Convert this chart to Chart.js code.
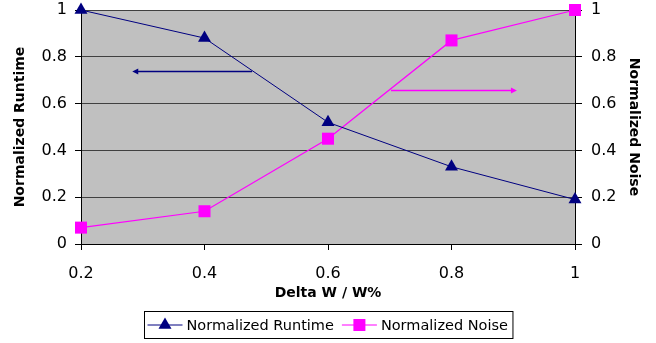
<!DOCTYPE html>
<html>
<head>
<meta charset="utf-8">
<script src="https://cdn.jsdelivr.net/npm/chart.js@4/dist/chart.umd.min.js"></script>
<style>
  html, body { margin: 0; padding: 0; background: #fff; }
  canvas { display: block; }
</style>
</head>
<body>
<canvas id="chart" width="656" height="343"></canvas>
<script>
const deltaW = [0.2, 0.4, 0.6, 0.8, 1];
const runtime = [1, 0.88, 0.52, 0.33, 0.19];
const noise = [0.07, 0.14, 0.45, 0.87, 1];
const xTicks = [0.2, 0.4, 0.6, 0.8, 1];
const yTicks = [0, 0.2, 0.4, 0.6, 0.8, 1];
const seriesNames = ['Normalized Runtime', 'Normalized Noise'];

// arrows pointing at each series' axis, in data units [x from, x to, y]
const runtimeArrow = [0.477, 0.283, 0.74];
const noiseArrow = [0.702, 0.906, 0.658];

const FONT = 'DejaVu Sans, sans-serif';

function fixTicks(values) {
    return function (scale) {
        scale.ticks = values.map(v => ({ value: v }));
    };
}

function fitSide(scale) {
    scale.width = 81;
    scale.paddingTop = 0;
    scale.paddingBottom = 0;
}

const plotBackground = {
    id: 'plotBackground',
    beforeDraw(chart) {
        const { ctx, chartArea: a } = chart;
        ctx.save();
        ctx.fillStyle = '#c0c0c0';
        ctx.fillRect(a.left, a.top, a.right - a.left, a.bottom - a.top);
        ctx.restore();
    }
};

function drawArrow(ctx, x1, x2, y, color) {
    const dir = x2 > x1 ? 1 : -1;
    ctx.strokeStyle = color;
    ctx.fillStyle = color;
    ctx.lineWidth = 1.3;
    ctx.beginPath();
    ctx.moveTo(x1, y);
    ctx.lineTo(x2 - dir * 4, y);
    ctx.stroke();
    ctx.beginPath();
    ctx.moveTo(x2, y);
    ctx.lineTo(x2 - dir * 6, y - 3);
    ctx.lineTo(x2 - dir * 6, y + 3);
    ctx.closePath();
    ctx.fill();
}

const arrows = {
    id: 'arrows',
    beforeDatasetsDraw(chart) {
        const { ctx, scales } = chart;
        ctx.save();
        drawArrow(ctx, scales.x.getPixelForValue(runtimeArrow[0]), scales.x.getPixelForValue(runtimeArrow[1]),
            Math.round(scales.y.getPixelForValue(runtimeArrow[2])) + 0.5, '#000080');
        drawArrow(ctx, scales.x.getPixelForValue(noiseArrow[0]), scales.x.getPixelForValue(noiseArrow[1]),
            Math.round(scales.y2.getPixelForValue(noiseArrow[2])) + 0.5, '#ff00ff');
        ctx.restore();
    }
};

function drawMarker(ctx, style, x, y, r) {
    if (style === 'triangle') {
        ctx.moveTo(x, y - r);
        ctx.lineTo(x + r * 0.866, y + r * 0.5);
        ctx.lineTo(x - r * 0.866, y + r * 0.5);
        ctx.closePath();
    } else {
        const s = r * Math.SQRT1_2;
        ctx.rect(x - s, y - s, 2 * s, 2 * s);
    }
}

const boxLegend = {
    id: 'boxLegend',
    afterDraw(chart) {
        const { ctx, chartArea: a } = chart;
        const sets = chart.data.datasets;
        ctx.save();
        ctx.font = '14.5px ' + FONT;
        const widths = sets.map(d => ctx.measureText(d.label).width);
        const total = 3 + widths.reduce((s, w) => s + 35 + 4 + w, 0) + 8 + 5;
        const cx = (a.left + a.right) / 2;
        let x = Math.round(cx - total / 2) + 0.5;
        const top = 311.5, h = 27;
        ctx.fillStyle = '#fff';
        ctx.fillRect(x, top, total, h);
        ctx.strokeStyle = '#000';
        ctx.lineWidth = 1;
        ctx.strokeRect(x, top, total, h);
        const cy = top + h / 2;
        let px = x + 3;
        sets.forEach((d, i) => {
            ctx.strokeStyle = d.borderColor;
            ctx.lineWidth = d.borderWidth;
            ctx.beginPath();
            ctx.moveTo(px, cy);
            ctx.lineTo(px + 35, cy);
            ctx.stroke();
            ctx.fillStyle = d.pointBackgroundColor;
            ctx.beginPath();
            drawMarker(ctx, d.pointStyle, px + 17.5, cy, d.pointRadius);
            ctx.fill();
            ctx.fillStyle = '#000';
            ctx.textBaseline = 'middle';
            ctx.fillText(d.label, px + 39, cy + 1);
            px += 35 + 4 + widths[i] + 8;
        });
        ctx.restore();
    }
};

new Chart(document.getElementById('chart'), {
    type: 'line',
    data: {
        datasets: [{
            label: seriesNames[0],
            data: deltaW.map((x, i) => ({ x: x, y: runtime[i] })),
            yAxisID: 'y',
            borderColor: '#000080',
            borderWidth: 1,
            pointStyle: 'triangle',
            pointRadius: 7.5,
            pointBackgroundColor: '#000080',
            pointBorderWidth: 0,
            tension: 0,
            clip: false
        }, {
            label: seriesNames[1],
            data: deltaW.map((x, i) => ({ x: x, y: noise[i] })),
            yAxisID: 'y2',
            borderColor: '#ff00ff',
            borderWidth: 1.2,
            pointStyle: 'rect',
            pointRadius: 8.5,
            pointBackgroundColor: '#ff00ff',
            pointBorderWidth: 0,
            tension: 0,
            clip: false
        }]
    },
    options: {
        responsive: false,
        animation: false,
        events: [],
        layout: { padding: { top: 10, left: 0, right: 0, bottom: 0 } },
        plugins: {
            legend: { display: false },
            tooltip: { enabled: false }
        },
        scales: {
            x: {
                type: 'linear',
                min: 0.2,
                max: 1,
                afterBuildTicks: fixTicks(xTicks),
                afterFit(s) { s.height = 99; },
                grid: { drawOnChartArea: false, tickLength: 6, tickColor: '#000' },
                border: { color: '#000', width: 1 },
                ticks: {
                    color: '#000', padding: 14, maxRotation: 0,
                    font: { family: FONT, size: 16 },
                    callback: v => String(+v.toFixed(1))
                },
                title: {
                    display: true, text: 'Delta W / W%', color: '#000',
                    font: { family: FONT, size: 14, weight: 'bold' },
                    padding: { bottom: 41 }
                }
            },
            y: {
                position: 'left',
                min: 0,
                max: 1,
                afterBuildTicks: fixTicks(yTicks),
                afterFit: fitSide,
                grid: { color: '#404040', lineWidth: 1, tickLength: 6, tickColor: '#000' },
                border: { color: '#000', width: 1 },
                ticks: {
                    color: '#000', padding: 8,
                    font: { family: FONT, size: 16 },
                    callback: v => String(+v.toFixed(1))
                },
                title: {
                    display: true, text: 'Normalized Runtime', color: '#000',
                    font: { family: FONT, size: 14, weight: 'bold' },
                    padding: { top: 12 }
                }
            },
            y2: {
                position: 'right',
                min: 0,
                max: 1,
                afterBuildTicks: fixTicks(yTicks),
                afterFit: fitSide,
                grid: { drawOnChartArea: false, tickLength: 7, tickColor: '#000' },
                border: { color: '#000', width: 1 },
                ticks: {
                    color: '#000', padding: 9,
                    font: { family: FONT, size: 16 },
                    callback: v => String(+v.toFixed(1))
                },
                title: {
                    display: true, text: 'Normalized Noise', color: '#000',
                    font: { family: FONT, size: 14, weight: 'bold' },
                    padding: { top: 14 }
                }
            }
        }
    },
    plugins: [plotBackground, arrows, boxLegend]
});
</script>
</body>
</html>
